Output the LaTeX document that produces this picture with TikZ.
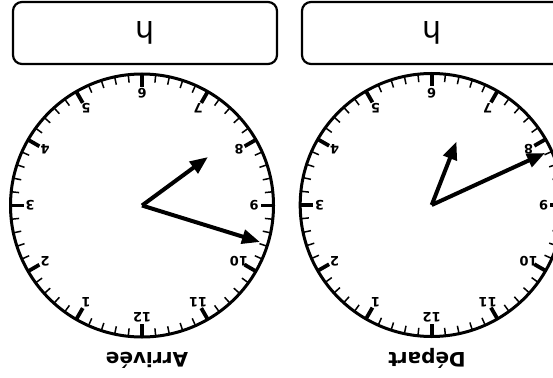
\documentclass[tikz,border=0pt]{standalone}
\usepackage{fontspec}
\setmainfont{DejaVu Sans}
\usetikzlibrary{arrows.meta,calc}
\begin{document}
\begin{tikzpicture}[x=1pt,y=-1pt,
  answerbox/.style={draw,line width=2.2pt,rounded corners=9pt},
  face/.style={draw,line width=3pt},
  minutetick/.style={line width=1.5pt},
  hourtick/.style={line width=3.8pt},
  hand/.style={line width=4pt,-{Triangle[length=18pt,width=14pt]}},
  numlabel/.style={font=\fontsize{13}{13}\selectfont\bfseries,rotate=180,inner sep=0pt},
  clocklabel/.style={font=\fontsize{20}{20}\selectfont\bfseries,rotate=180,inner sep=0pt,anchor=base},
  unitlabel/.style={font=\fontsize{30}{30}\selectfont,rotate=180,inner sep=0pt}]
\path[use as bounding box] (0,0) rectangle (553,377);
\clip (0,0) rectangle (553,377);
% answer boxes
\draw[answerbox] (13,2) rectangle (277,64);
\node[unitlabel] (hL) at (145,32.5) {h};
\draw[answerbox] (302,2) rectangle (566,64);
\node[unitlabel] (hR) at (432,32.5) {h};
% clocks
\foreach \cx/\cy/\nm in {142/205.5/L,431.7/205/R}{
  \coordinate (c\nm) at (\cx,\cy);
  \draw[face] (c\nm) circle (131.5);
  \foreach \m in {0,...,59}{
    \draw[minutetick] ($(c\nm)+(90+6*\m:131)$) -- ($(c\nm)+(90+6*\m:123.5)$);
  }
  \foreach \h in {1,...,12}{
    \draw[hourtick] ($(c\nm)+(90+30*\h:131)$) -- ($(c\nm)+(90+30*\h:118.5)$);
    \node[numlabel] (n\nm\h) at ($(c\nm)+(90+30*\h:112)$) {\h};
  }
}
% hands
\coordinate (aL1) at (208,157);
\coordinate (aL2) at (260,242);
\draw[hand] (cL) -- (aL1);
\draw[hand] (cL) -- (aL2);
\coordinate (aR1) at (456.5,141.5);
\draw[hand] (cR) -- (aR1);
\coordinate (aR2) at (545,153);
\draw[hand] (cR) -- (aR2);
% labels
\node[clocklabel] (arr) at (147,352) {Arrivée};
\node[clocklabel] (dep) at (427,352) {Départ};
\end{tikzpicture}
\end{document}
